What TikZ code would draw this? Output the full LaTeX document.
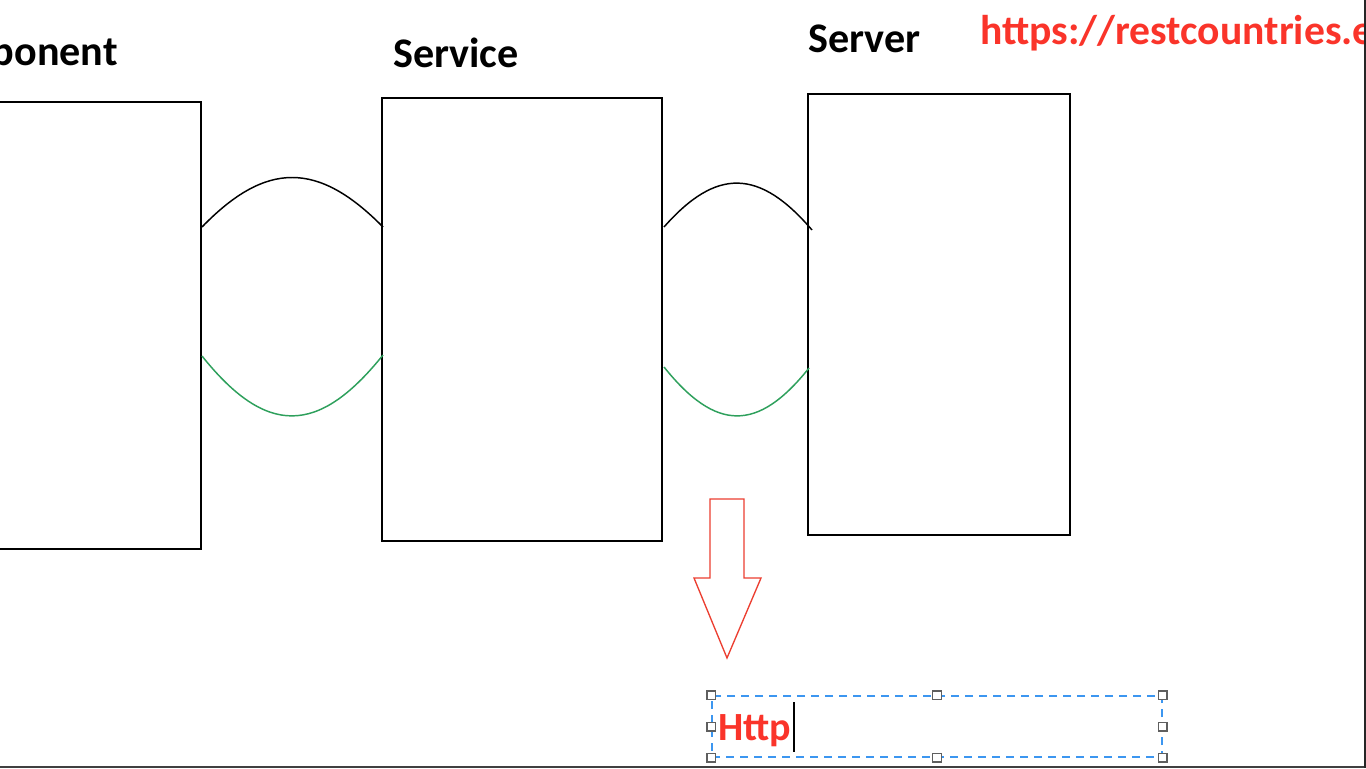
\documentclass[tikz,border=0pt]{standalone}
\usepackage{fontspec}
\setmainfont{Carlito}
\usetikzlibrary{calc,fit}
\definecolor{urlred}{RGB}{250,52,42}
\definecolor{arrowred}{RGB}{236,62,48}
\definecolor{wavegreen}{RGB}{46,160,92}
\definecolor{selblue}{RGB}{60,150,240}
\definecolor{handlegray}{RGB}{95,95,95}
\tikzset{
  box/.style={draw=black, line width=1.5pt, inner sep=0pt, fill=none},
  label/.style={inner sep=0pt, font=\fontsize{31.6}{37}\selectfont\bfseries},
  urltext/.style={inner sep=0pt, text=urlred, font=\fontsize{31.2}{37}\selectfont\bfseries},
  waveblack/.style={draw=black, line width=1.1pt},
  wavegreenline/.style={draw=wavegreen, line width=1.1pt},
  selbox/.style={draw=selblue, dash pattern=on 6pt off 4.5pt, line width=0.9pt, inner sep=0pt},
  handle/.style={draw=handlegray, fill=white, line width=1pt, minimum size=6.5pt, inner sep=0pt, rectangle},
  fatarrow/.style={draw=arrowred, line width=1pt, line join=miter},
}
\begin{document}
\begin{tikzpicture}[x=0.75pt,y=-0.75pt]
\useasboundingbox (0,0) rectangle (1366,768);
\clip (0,0) rectangle (1366,768);
\fill[white] (0,0) rectangle (1366,768);

% boxes
\node[box, fit={(-60,102) (201,549)}] (comp) {};
\node[box, fit={(382,98) (662,541)}] (sv) {};
\node[box, fit={(808,94) (1070,535)}] (srv) {};

% titles
\node[label, anchor=base east] (tcomp) at (118,65) {Component};
\node[label, anchor=base west] (tsv) at (393,67) {Service};
\node[label, anchor=base west] (tsrv) at (808,52) {Server};
\node[urltext, anchor=base west] (url) at (980,44) {https://restcountries.eu};

% wave endpoints
\coordinate (a1) at ($(comp.north east)+(0,126)$);
\coordinate (b1) at ($(sv.north west)+(2,130)$);
\coordinate (a2) at ($(comp.north east)+(0,255)$);
\coordinate (b2) at ($(sv.north west)+(2,258)$);
\coordinate (a3) at ($(sv.north east)+(1,130)$);
\coordinate (b3) at ($(srv.north west)+(5,137)$);
\coordinate (a4) at ($(sv.north east)+(1,270)$);
\coordinate (b4) at ($(srv.north west)+(2,275)$);

% waves
\draw[waveblack] (a1) .. controls (266,161) and (318,161) .. (b1);
\draw[wavegreenline] (a2) .. controls (266,436) and (318,436) .. (b2);
\draw[waveblack] (a3) .. controls (716,168) and (759,168) .. (b3);
\draw[wavegreenline] (a4) .. controls (716,432) and (758,432) .. (b4);

% fat red arrow
\coordinate (ar1) at (710,499);
\coordinate (ar2) at (744,499);
\coordinate (ar3) at (744,578);
\coordinate (ar4) at (761,578);
\coordinate (artip) at (727,658);
\coordinate (ar6) at (694,578);
\coordinate (ar7) at (710,578);
\draw[fatarrow] (ar1) -- (ar2) -- (ar3) -- (ar4) -- (artip) -- (ar6) -- (ar7) -- cycle;

% selected text box
\node[selbox, fit={(712,696) (1162,757)}] (tb) {};
\node[urltext, anchor=base west, font=\fontsize{30}{35}\selectfont\bfseries] (http) at (718,740) {Http};
\coordinate (cur1) at (794,702);
\coordinate (cur2) at (794,752);
\draw[black, line width=1.2pt] (cur1) -- (cur2);

% handles
\node[handle] (h1) at (tb.north west) {};
\node[handle] (h2) at (tb.north) {};
\node[handle] (h3) at (tb.north east) {};
\node[handle] (h4) at (tb.west) {};
\node[handle] (h5) at (tb.east) {};
\node[handle] (h6) at (tb.south west) {};
\node[handle] (h7) at (tb.south) {};
\node[handle] (h8) at (tb.south east) {};

% window frame edges
\coordinate (fb1) at (0,767);
\coordinate (fb2) at (1366,767);
\coordinate (fr1) at (1365,0);
\coordinate (fr2) at (1365,768);
\draw[black!75, line width=1.5pt] (fb1) -- (fb2);
\draw[black!85, line width=1.5pt] (fr1) -- (fr2);
\end{tikzpicture}
\end{document}
